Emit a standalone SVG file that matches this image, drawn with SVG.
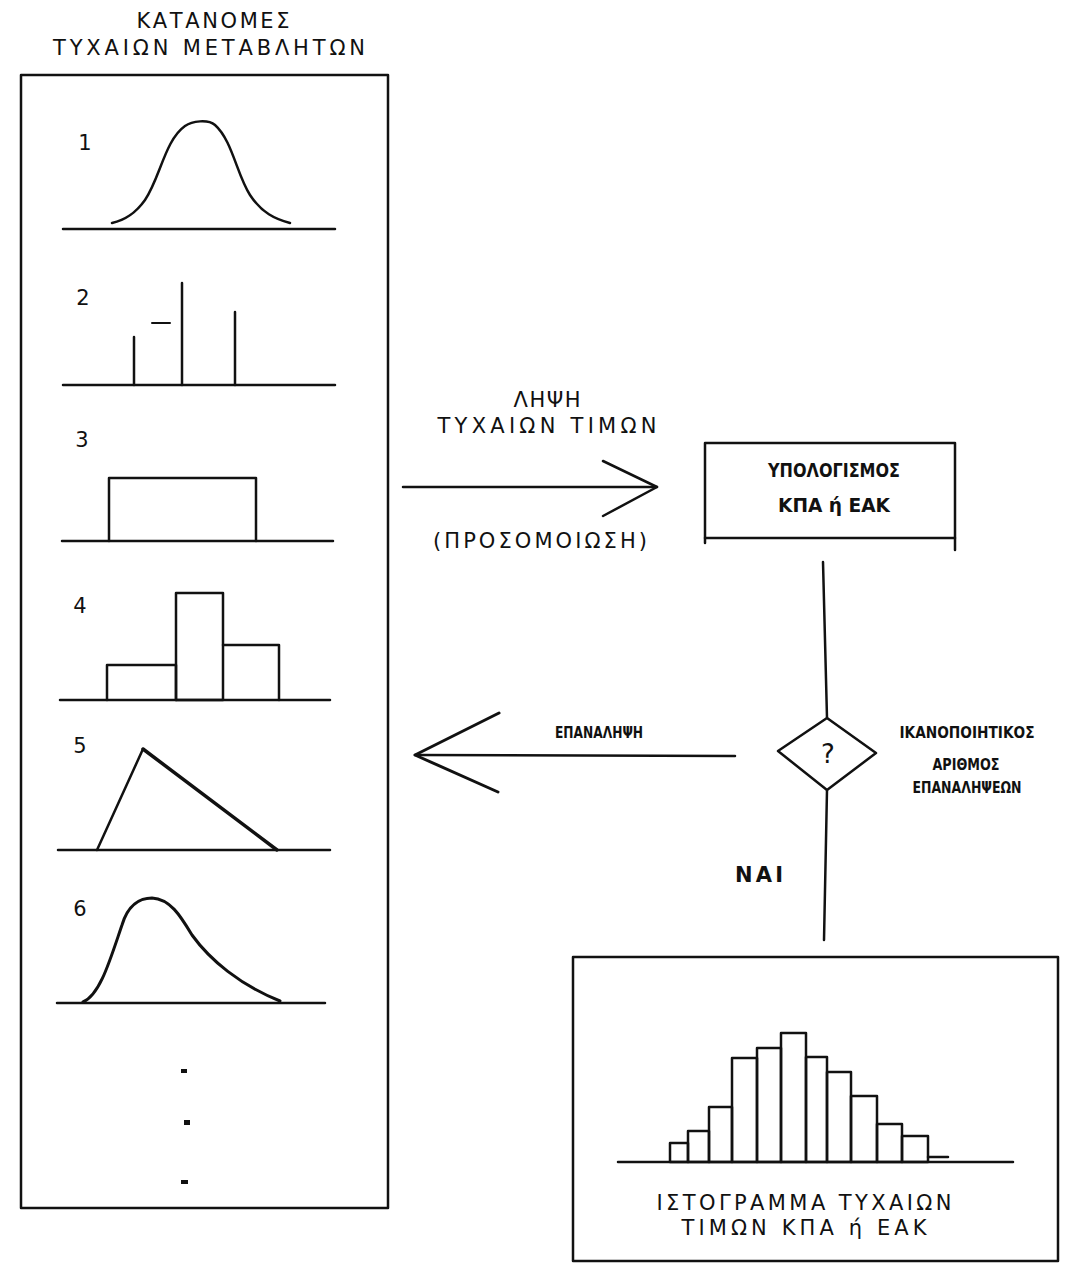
<svg xmlns="http://www.w3.org/2000/svg" width="1068" height="1266" viewBox="0 0 1068 1266">
<style>
.ln{fill:none;stroke:#111;stroke-width:2.5;stroke-linecap:round;stroke-linejoin:round}
.thin{fill:none;stroke:#111;stroke-width:2;stroke-linecap:round}
.wide{font-family:"DejaVu Sans","Liberation Sans",sans-serif;font-size:21px;fill:#111;text-anchor:middle}
.cond{font-family:"DejaVu Sans Condensed","DejaVu Sans","Liberation Sans",sans-serif;font-weight:bold;font-size:19px;fill:#111;text-anchor:middle}
.num{font-family:"DejaVu Sans","Liberation Sans",sans-serif;font-size:21px;fill:#111;text-anchor:middle}
</style>
<rect width="1068" height="1266" fill="#fff"/>

<g id="title">
<text class="wide" x="213" y="28" textLength="153" lengthAdjust="spacing">ΚΑΤΑΝΟΜΕΣ</text>
<text class="wide" x="209" y="55" textLength="312" lengthAdjust="spacing">ΤΥΧΑΙΩΝ ΜΕΤΑΒΛΗΤΩΝ</text>
</g>

<g id="distributions">
<rect class="ln" x="21" y="75" width="367" height="1133"/>
<g id="dist1">
<text class="num" x="85" y="150">1</text>
<line class="ln" x1="63" y1="229" x2="335" y2="229"/>
<path class="ln" d="M112,223 C125,220 135,214 145,200 C160,178 165,140 185,126 C192,121 208,119 215,125 C232,140 237,175 250,195 C262,213 275,219 290,223"/>
</g>
<g id="dist2">
<text class="num" x="83" y="305">2</text>
<line class="ln" x1="63" y1="385" x2="335" y2="385"/>
<line class="ln" x1="134" y1="337" x2="134" y2="385"/>
<line class="ln" x1="182" y1="283" x2="182" y2="385"/>
<line class="ln" x1="235" y1="312" x2="235" y2="385"/>
<line class="thin" x1="152" y1="323" x2="170" y2="323"/>
</g>
<g id="dist3">
<text class="num" x="82" y="447">3</text>
<line class="ln" x1="62" y1="541" x2="333" y2="541"/>
<polyline class="ln" points="109,541 109,478 256,478 256,541"/>
</g>
<g id="dist4">
<text class="num" x="80" y="613">4</text>
<line class="ln" x1="60" y1="700" x2="330" y2="700"/>
<polyline class="ln" points="107,700 107,665 176,665 176,700"/>
<rect class="ln" x="176" y="593" width="47" height="107"/>
<polyline class="ln" points="223,645 279,645 279,700"/>
</g>
<g id="dist5">
<text class="num" x="80" y="753">5</text>
<line class="ln" x1="58" y1="850" x2="330" y2="850"/>
<path class="ln" d="M97,850 L143,749"/>
<path class="ln" style="stroke-width:3.5" d="M143,749 L277,850"/>
</g>
<g id="dist6">
<text class="num" x="80" y="916">6</text>
<line class="ln" x1="57" y1="1003" x2="325" y2="1003"/>
<path class="ln" style="stroke-width:3" d="M83,1002 C100,995 110,960 122,925 C128,905 140,898 152,898 C170,899 180,915 192,935 C210,960 240,985 280,1001"/>
</g>
<g id="ellipsis" fill="#111">
<rect x="181" y="1069" width="6" height="4"/>
<rect x="184" y="1120" width="6" height="5"/>
<rect x="181" y="1180" width="7" height="4"/>
</g>
</g>

<g id="labels">
<text class="wide" x="547" y="407" textLength="67" lengthAdjust="spacing">ΛΗΨΗ</text>
<text class="wide" x="547" y="433" textLength="219" lengthAdjust="spacing">ΤΥΧΑΙΩΝ ΤΙΜΩΝ</text>
<text class="wide" x="540" y="548" textLength="214" lengthAdjust="spacing">(ΠΡΟΣΟΜΟΙΩΣΗ)</text>
<text class="cond" x="599" y="738" textLength="88" lengthAdjust="spacingAndGlyphs" style="font-size:16px">ΕΠΑΝΑΛΗΨΗ</text>
<text class="wide" x="759" y="882" textLength="48" lengthAdjust="spacing" style="font-weight:bold">ΝΑΙ</text>
</g>

<g id="compute">
<polyline class="ln" points="705,543 705,443 955,443 955,550"/>
<line class="ln" x1="705" y1="538" x2="955" y2="538"/>
<text class="cond" x="834" y="477" textLength="132" lengthAdjust="spacingAndGlyphs">ΥΠΟΛΟΓΙΣΜΟΣ</text>
<text class="cond" x="834" y="512" textLength="112" lengthAdjust="spacingAndGlyphs">ΚΠΑ ή ΕΑΚ</text>
</g>

<g id="decision">
<polygon class="ln" points="827,718 876,753 827,790 778,751"/>
<text x="828" y="763" style="font-family:'DejaVu Sans',sans-serif;font-size:26px;fill:#111;text-anchor:middle">?</text>
<text class="cond" x="967" y="738" textLength="135" lengthAdjust="spacingAndGlyphs" style="font-size:16px">ΙΚΑΝΟΠΟΙΗΤΙΚΟΣ</text>
<text class="cond" x="966" y="770" textLength="67" lengthAdjust="spacingAndGlyphs" style="font-size:16px">ΑΡΙΘΜΟΣ</text>
<text class="cond" x="967" y="793" textLength="109" lengthAdjust="spacingAndGlyphs" style="font-size:16px">ΕΠΑΝΑΛΗΨΕΩΝ</text>
</g>

<g id="histogram">
<rect class="ln" x="573" y="957" width="485" height="304"/>
<line class="ln" x1="618" y1="1162" x2="1013" y2="1162"/>
<g class="ln">
<rect x="670" y="1143" width="18" height="19"/>
<rect x="688" y="1131" width="21" height="31"/>
<rect x="709" y="1107" width="23" height="55"/>
<rect x="732" y="1058" width="25" height="104"/>
<rect x="757" y="1048" width="24" height="114"/>
<rect x="781" y="1033" width="25" height="129"/>
<rect x="806" y="1057" width="21" height="105"/>
<rect x="827" y="1072" width="24" height="90"/>
<rect x="851" y="1096" width="26" height="66"/>
<rect x="877" y="1124" width="25" height="38"/>
<rect x="902" y="1136" width="26" height="26"/>
<polyline points="928,1157 948,1157"/>
</g>
<text class="wide" x="804" y="1210" textLength="295" lengthAdjust="spacing">ΙΣΤΟΓΡΑΜΜΑ ΤΥΧΑΙΩΝ</text>
<text class="wide" x="804" y="1235" textLength="245" lengthAdjust="spacing">ΤΙΜΩΝ ΚΠΑ ή ΕΑΚ</text>
</g>

<g id="connectors">
<line class="ln" x1="403" y1="487" x2="657" y2="487"/>
<polyline class="ln" points="603,461 657,487 603,516"/>
<line class="ln" x1="735" y1="756" x2="415" y2="755"/>
<polyline class="ln" style="stroke-width:3" points="499,713 415,755 498,792"/>
<line class="ln" x1="823" y1="562" x2="827" y2="718"/>
<line class="ln" x1="827" y1="790" x2="824" y2="940"/>
</g>
</svg>
